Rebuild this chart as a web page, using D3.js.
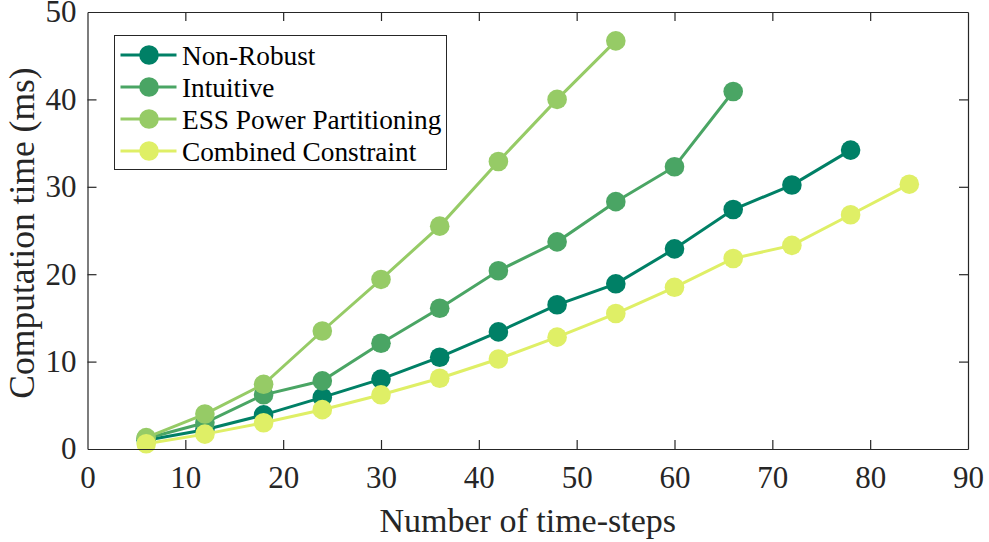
<!DOCTYPE html>
<html><head><meta charset="utf-8">
<script src="https://cdn.jsdelivr.net/npm/d3@7"></script>
<style>body{margin:0;background:#fff}svg{display:block}</style>
</head><body><svg id="c" width="989" height="542"></svg>
<script>
const seriesNames = ["Non-Robust","Intuitive","ESS Power Partitioning","Combined Constraint"];
const seriesColors = ["#008066","#4aa564","#96cb66","#dfef66"];
const nonRobustX = [6,12,18,24,30,36,42,48,54,60,66,72,78];
const nonRobustY = [1.0,2.2,3.9,5.9,8.0,10.5,13.4,16.5,18.9,22.9,27.4,30.2,34.2];
const intuitiveX = [6,12,18,24,30,36,42,48,54,60,66];
const intuitiveY = [1.2,3.0,6.2,7.8,12.1,16.1,20.4,23.7,28.3,32.3,40.9];
const essX = [6,12,18,24,30,36,42,48,54];
const essY = [1.3,4.0,7.4,13.5,19.4,25.5,32.9,40.0,46.7];
const combinedX = [6,12,18,24,30,36,42,48,54,60,66,72,78,84];
const combinedY = [0.6,1.7,3.0,4.5,6.2,8.1,10.3,12.8,15.5,18.5,21.8,23.3,26.8,30.3];
const xTicks = [0,10,20,30,40,50,60,70,80,90];
const yTicks = [0,10,20,30,40,50];

const data = [
  {name: seriesNames[0], color: seriesColors[0], xs: nonRobustX, ys: nonRobustY},
  {name: seriesNames[1], color: seriesColors[1], xs: intuitiveX, ys: intuitiveY},
  {name: seriesNames[2], color: seriesColors[2], xs: essX, ys: essY},
  {name: seriesNames[3], color: seriesColors[3], xs: combinedX, ys: combinedY}
];

const FONT = "'Liberation Serif', Tinos, 'Times New Roman', 'Nimbus Roman', 'DejaVu Serif', serif";
const svg = d3.select("#c");
const L = 87.5, R = 968, T = 12, B = 449;
const x = d3.scaleLinear().domain([0,90]).range([L,R]);
const y = d3.scaleLinear().domain([0,50]).range([B,T]);
const axisColor = "#262626";
const tl = 9;

const line = d3.line().x(d=>x(d[0])).y(d=>y(d[1]));
data.forEach(s=>{
  const pts = s.xs.map((v,i)=>[v,s.ys[i]]);
  const g = svg.append("g");
  g.append("path").attr("d", line(pts)).attr("fill","none").attr("stroke",s.color).attr("stroke-width",3);
  g.selectAll("circle").data(pts).enter().append("circle")
    .attr("cx",d=>x(d[0])).attr("cy",d=>y(d[1])).attr("r",9.8).attr("fill",s.color);
});

const gx = svg.append("g").attr("transform",`translate(0,${B})`)
  .call(d3.axisBottom(x).tickValues(xTicks).tickSizeInner(-tl).tickSizeOuter(0).tickPadding(17));
const gxt = svg.append("g").attr("transform",`translate(0,${T})`)
  .call(d3.axisTop(x).tickValues(xTicks).tickSizeInner(-tl).tickSizeOuter(0).tickFormat(""));
const gy = svg.append("g").attr("transform",`translate(${L},0)`)
  .call(d3.axisLeft(y).tickValues(yTicks).tickSizeInner(-tl).tickSizeOuter(0).tickPadding(11));
const gyr = svg.append("g").attr("transform",`translate(${R},0)`)
  .call(d3.axisRight(y).tickValues(yTicks).tickSizeInner(-tl).tickSizeOuter(0).tickFormat(""));
[gx,gxt,gy,gyr].forEach(g=>{
  g.attr("font-family", FONT).attr("font-size", 31);
  g.selectAll("path").attr("stroke",axisColor).attr("stroke-width",1.2);
  g.selectAll("line").attr("stroke",axisColor).attr("stroke-width",1.2);
  g.selectAll("text").attr("font-family", FONT).attr("font-size", 31).attr("fill",axisColor);
});
gx.selectAll("text").attr("dy","0.71em");
[gx,gxt].forEach(g=>g.selectAll(".tick").filter(d=>d===0||d===90).select("line").remove());
[gy,gyr].forEach(g=>g.selectAll(".tick").filter(d=>d===0||d===50).select("line").remove());

svg.append("text").attr("x",(L+R)/2).attr("y",532).attr("text-anchor","middle")
  .attr("font-family",FONT).attr("font-size",34).attr("fill",axisColor).text("Number of time-steps");
svg.append("text").attr("transform",`translate(34,233) rotate(-90)`).attr("text-anchor","middle")
  .attr("font-family",FONT).attr("font-size",35.5).attr("fill",axisColor).text("Computation time (ms)");

const lg = svg.append("g");
lg.append("rect").attr("x",114.5).attr("y",35.5).attr("width",332).attr("height",134)
  .attr("fill","#fff").attr("stroke","#262626").attr("stroke-width",1);
data.forEach((s,i)=>{
  const yy = 55 + i*32;
  lg.append("line").attr("x1",120.5).attr("x2",176.5).attr("y1",yy).attr("y2",yy).attr("stroke",s.color).attr("stroke-width",3);
  lg.append("circle").attr("cx",149).attr("cy",yy).attr("r",9.8).attr("fill",s.color);
  lg.append("text").attr("x",182).attr("y",yy).attr("dy","0.35em").attr("font-family",FONT).attr("font-size",27.3).attr("fill","#000").text(s.name);
});
</script></body></html>
